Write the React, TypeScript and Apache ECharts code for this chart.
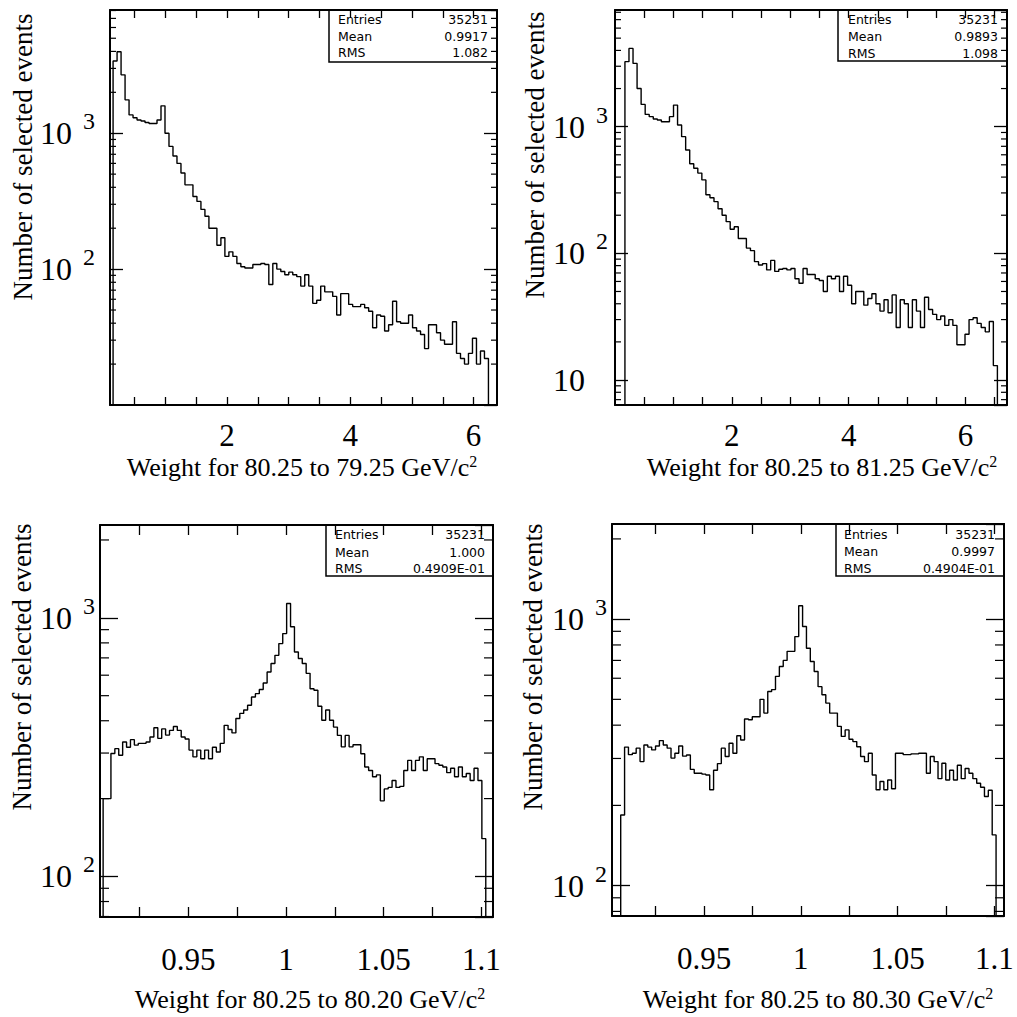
import React, { useEffect, useRef } from "react";
import * as echarts from "echarts";

// ---------------- DATA ----------------
// Panel 1: Weight for 80.25 to 79.25 GeV/c^2
const P1_BIN_START = 0.15;
const P1_BIN_WIDTH = 0.0648;
const p1Counts = [
  3400, 3980, 2690, 1760, 1364, 1300, 1250, 1230, 1200, 1180,
  1180, 1250, 1590, 1000, 800, 680, 600, 510, 417, 417,
  342, 315, 275, 245, 200, 200, 150, 170, 124, 134,
  124, 110, 104, 102, 102, 108, 108, 110, 108, 77,
  110, 100, 96, 91, 95, 91, 88, 75, 91, 75,
  56, 59, 75, 68, 68, 63, 46, 66, 66, 55,
  53, 53, 55, 52, 49, 37, 46, 45, 35, 39,
  58, 41, 40, 40, 46, 37, 35, 33, 26, 39,
  39, 34, 30, 28, 28, 41, 24, 22, 20, 24,
  31, 20, 25, 22,
];
const p1Stats = ["35231", "0.9917", "1.082"];

// Panel 2: Weight for 80.25 to 81.25 GeV/c^2
const P2_BIN_START = 0.17;
const P2_BIN_WIDTH = 0.0693;
const p2Counts = [
  3260, 4150, 3160, 2000, 1500, 1250, 1200, 1150, 1130, 1095,
  1095, 1200, 1480, 1030, 834, 655, 510, 470, 430, 380,
  290, 275, 256, 225, 200, 178, 155, 162, 131, 131,
  110, 105, 86, 81, 83, 74, 88, 72, 75, 76,
  74, 76, 63, 58, 76, 68, 68, 63, 61, 50,
  66, 63, 66, 50, 66, 56, 40, 50, 50, 39,
  44, 48, 40, 35, 43, 34, 47, 26, 43, 40,
  26, 43, 35, 26, 45, 36, 33, 30, 32, 27,
  30, 27, 19, 19, 23, 30, 31, 28, 26, 24,
  29, 13,
];
const p2Stats = ["35231", "0.9893", "1.098"];

// Panel 3: Weight for 80.25 to 80.20 GeV/c^2
const P3_BIN_START = 0.9063;
const P3_BIN_WIDTH = 0.002;
const p3Counts = [
  200, 200, 299, 312, 294, 331, 316, 338, 322, 327,
  327, 331, 346, 376, 342, 372, 352, 367, 380, 367,
  346, 340, 308, 290, 308, 285, 308, 285, 316, 303,
  327, 384, 370, 359, 408, 427, 440, 459, 494, 509,
  528, 560, 617, 666, 716, 795, 869, 1136, 923, 738,
  696, 666, 610, 532, 525, 455, 402, 440, 402, 378,
  351, 317, 351, 317, 323, 323, 298, 265, 257, 243,
  247, 196, 218, 221, 235, 221, 223, 257, 281, 257,
  281, 290, 257, 285, 285, 273, 269, 265, 252, 262,
  243, 265, 243, 250, 235, 262, 235, 140,
];
const p3Stats = ["35231", "1.000", "0.4909E-01"];

// Panel 4: Weight for 80.25 to 80.30 GeV/c^2
const P4_BIN_START = 0.9069;
const P4_BIN_WIDTH = 0.002;
const p4Counts = [
  184, 331, 310, 314, 328, 292, 337, 331, 323, 334,
  350, 337, 328, 301, 314, 334, 306, 309, 273, 264,
  264, 262, 260, 229, 271, 287, 328, 305, 342, 314,
  365, 352, 422, 419, 430, 430, 500, 444, 535, 544,
  610, 664, 700, 757, 757, 860, 1122, 938, 778, 693,
  636, 558, 520, 484, 444, 444, 396, 363, 384, 354,
  347, 332, 305, 292, 314, 260, 229, 246, 229, 249,
  231, 314, 314, 310, 310, 312, 312, 314, 314, 264,
  305, 292, 252, 288, 249, 271, 249, 283, 252, 275,
  264, 252, 242, 234, 216, 228, 155,
];
const p4Stats = ["35231", "0.9997", "0.4904E-01"];

const statLabels = ["Entries", "Mean", "RMS"];
const xTitles = [
  "Weight for 80.25 to 79.25 GeV/c",
  "Weight for 80.25 to 81.25 GeV/c",
  "Weight for 80.25 to 80.20 GeV/c",
  "Weight for 80.25 to 80.30 GeV/c",
];
const xTitleSup = "2";
const yTitle = "Number of selected events";

const wideTicksP1 = [0.5, 1, 1.5, 2, 2.5, 3, 3.5, 4, 4.5, 5, 5.5, 6];
const wideTicksP2 = [0.5, 1, 1.5, 2, 2.5, 3, 3.5, 4, 4.5, 5, 5.5, 6, 6.5];
const wideLabels = [2, 4, 6];
const narrowTicks = [0.925, 0.95, 0.975, 1, 1.025, 1.05, 1.075, 1.1];
const narrowLabels = [0.95, 1, 1.05, 1.1];
const logMinorMultipliers = [2, 3, 4, 5, 6, 7, 8, 9];

// ---------------- LAYOUT ----------------
const SERIF = "Liberation Serif";
const SANS = "DejaVu Sans";

type Panel = {
  start: number; width: number; counts: number[]; stats: string[];
  xMin: number; xMax: number; yMin: number; yMax: number;
  xTicks: number[]; xLabels: number[];
  grid: { left: number; top: number; width: number; height: number };
  xLabelMargin: number; xTickLen: number; yLabelMargin: number;
  majorLen: number; minorLen: number;
  yTitlePos: [number, number]; xTitlePos: [number, number];
  box: { x: number; y: number; w: number; h: number };
  rows: number[]; labelX: number; valueX: number;
};

const panels: Panel[] = [
  {
    start: P1_BIN_START, width: P1_BIN_WIDTH, counts: p1Counts, stats: p1Stats,
    xMin: 0.1, xMax: 6.38, yMin: 10, yMax: 8070, xTicks: wideTicksP1, xLabels: wideLabels,
    grid: { left: 110, top: 10, width: 387, height: 395 },
    xLabelMargin: 17, xTickLen: 8, yLabelMargin: 15, majorLen: 13, minorLen: 6,
    yTitlePos: [23, 157], xTitlePos: [302, 467],
    box: { x: 329, y: 10, w: 168, h: 52 }, rows: [19, 36, 52], labelX: 338, valueX: 488,
  },
  {
    start: P2_BIN_START, width: P2_BIN_WIDTH, counts: p2Counts, stats: p2Stats,
    xMin: 0.0, xMax: 6.71, yMin: 6.35, yMax: 8340, xTicks: wideTicksP2, xLabels: wideLabels,
    grid: { left: 615, top: 10, width: 392, height: 395 },
    xLabelMargin: 17, xTickLen: 8, yLabelMargin: 7, majorLen: 13, minorLen: 6,
    yTitlePos: [535, 155], xTitlePos: [822, 467],
    box: { x: 838, y: 10, w: 169, h: 51 }, rows: [19, 36, 53], labelX: 848, valueX: 998,
  },
  {
    start: P3_BIN_START, width: P3_BIN_WIDTH, counts: p3Counts, stats: p3Stats,
    xMin: 0.9047, xMax: 1.106, yMin: 69.7, yMax: 2285, xTicks: narrowTicks, xLabels: narrowLabels,
    grid: { left: 100, top: 525, width: 393, height: 392 },
    xLabelMargin: 29, xTickLen: 10, yLabelMargin: 5, majorLen: 18, minorLen: 9,
    yTitlePos: [22, 667], xTitlePos: [310, 999],
    box: { x: 326, y: 525, w: 167, h: 51 }, rows: [534, 552, 568], labelX: 335, valueX: 485,
  },
  {
    start: P4_BIN_START, width: P4_BIN_WIDTH, counts: p4Counts, stats: p4Stats,
    xMin: 0.9024, xMax: 1.105, yMin: 76.9, yMax: 2275, xTicks: narrowTicks, xLabels: narrowLabels,
    grid: { left: 612, top: 524, width: 392, height: 392 },
    xLabelMargin: 29, xTickLen: 10, yLabelMargin: 5, majorLen: 18, minorLen: 9,
    yTitlePos: [533, 667], xTitlePos: [818, 999],
    box: { x: 836, y: 524, w: 168, h: 52 }, rows: [534, 551, 568], labelX: 844, valueX: 995,
  },
];

function stepData(start: number, width: number, counts: number[], floor: number) {
  const pts: number[][] = [[start, floor]];
  counts.forEach((c, i) => pts.push([start + i * width, c]));
  const end = start + counts.length * width;
  pts.push([end, counts[counts.length - 1]]);
  pts.push([end, floor]);
  return pts;
}

function minorValues(min: number, max: number) {
  const out: number[] = [];
  for (let e = Math.floor(Math.log10(min)); e <= Math.ceil(Math.log10(max)); e++) {
    for (const m of logMinorMultipliers) {
      const v = m * Math.pow(10, e);
      if (v > min && v < max) out.push(v);
    }
  }
  return out;
}

function yLabelFormatter(value: number) {
  const l = Math.log10(value);
  const e = Math.round(l);
  if (Math.abs(l - e) > 1e-6) return "";
  return e === 1 ? "{b|10}{p| }" : `{b|10}{s|${e}}`;
}

function buildOption() {
  const grids: any[] = [];
  const xAxes: any[] = [];
  const yAxes: any[] = [];
  const series: any[] = [];
  const graphics: any[] = [];
  const axisLine = { show: true, onZero: false, lineStyle: { color: "#000", width: 2 } };

  panels.forEach((p, i) => {
    grids.push({ ...p.grid, show: false });
    const xBase = {
      gridIndex: i, type: "value", min: p.xMin, max: p.xMax,
      axisLine, splitLine: { show: false },
      axisTick: { show: true, inside: true, length: p.xTickLen, customValues: p.xTicks, lineStyle: { color: "#000", width: 1.3 } },
    };
    xAxes.push({
      ...xBase, position: "bottom",
      axisLabel: {
        show: true, customValues: p.xLabels, margin: p.xLabelMargin,
        fontFamily: SERIF, fontSize: 31, lineHeight: 26, color: "#000",
      },
    });
    xAxes.push({ ...xBase, position: "top", axisLabel: { show: false } });
    const yBase = {
      gridIndex: i, type: "log", logBase: 10, min: p.yMin, max: p.yMax,
      axisLine, splitLine: { show: false }, minorTick: { show: false },
      axisTick: { show: true, inside: true, length: p.majorLen, lineStyle: { color: "#000", width: 1.3 } },
    };
    yAxes.push({
      ...yBase, position: "left",
      axisLabel: {
        show: true, margin: p.yLabelMargin, showMinLabel: false, showMaxLabel: false,
        formatter: yLabelFormatter, color: "#000",
        rich: {
          b: { fontFamily: SERIF, fontSize: 32, lineHeight: 48, color: "#000" },
          s: { fontFamily: SERIF, fontSize: 24, verticalAlign: "top", padding: [0, 0, 0, 11], color: "#000" },
          p: { fontFamily: SERIF, fontSize: 24, width: 23 },
        },
      },
    });
    yAxes.push({ ...yBase, position: "right", axisLabel: { show: false } });

    series.push({
      type: "line", xAxisIndex: 2 * i, yAxisIndex: 2 * i, step: "end",
      symbol: "none", showSymbol: false, silent: true, clip: true,
      lineStyle: { color: "#000", width: 1.4 },
      data: stepData(p.start, p.width, p.counts, p.yMin / 10),
    });

    const len = p.minorLen;
    series.push({
      type: "custom", xAxisIndex: 2 * i, yAxisIndex: 2 * i, silent: true,
      data: minorValues(p.yMin, p.yMax).map((v) => [p.xMin, v]),
      renderItem: (params: any, api: any) => {
        const cs = params.coordSys;
        const pt = api.coord([api.value(0), api.value(1)]);
        const y = pt[1];
        const st = { stroke: "#000", lineWidth: 1.2 };
        return {
          type: "group",
          children: [
            { type: "line", shape: { x1: cs.x, y1: y, x2: cs.x + len, y2: y }, style: st },
            { type: "line", shape: { x1: cs.x + cs.width - len, y1: y, x2: cs.x + cs.width, y2: y }, style: st },
          ],
        };
      },
    });

    // titles
    graphics.push({
      type: "text", x: p.yTitlePos[0], y: p.yTitlePos[1], rotation: Math.PI / 2,
      style: { text: yTitle, fontFamily: SERIF, fontSize: 27, fill: "#000", align: "center", verticalAlign: "middle" },
    });
    graphics.push({
      type: "text", x: p.xTitlePos[0], y: p.xTitlePos[1],
      style: {
        text: `{t|${xTitles[i]}}{s|${xTitleSup}}`, align: "center", verticalAlign: "middle",
        rich: {
          t: { fontFamily: SERIF, fontSize: 26, lineHeight: 28, fill: "#000" },
          s: { fontFamily: SERIF, fontSize: 16, lineHeight: 12, verticalAlign: "top", fill: "#000" },
        },
      },
    });
    // stats box
    graphics.push({
      type: "rect", shape: { x: p.box.x, y: p.box.y, width: p.box.w, height: p.box.h },
      style: { fill: "none", stroke: "#000", lineWidth: 1.5 },
    });
    statLabels.forEach((lab, k) => {
      graphics.push({
        type: "text", x: p.labelX, y: p.rows[k],
        style: { text: lab, fontFamily: SANS, fontSize: 12.5, fill: "#000", align: "left", verticalAlign: "middle" },
      });
      graphics.push({
        type: "text", x: p.valueX, y: p.rows[k],
        style: { text: p.stats[k], fontFamily: SANS, fontSize: 12.5, fill: "#000", align: "right", verticalAlign: "middle" },
      });
    });
  });

  return {
    animation: false,
    backgroundColor: "#fff",
    grid: grids,
    xAxis: xAxes,
    yAxis: yAxes,
    series,
    graphic: graphics,
  };
}

export default function App() {
  const ref = useRef<HTMLDivElement>(null);
  useEffect(() => {
    const chart = echarts.init(ref.current!, null, { renderer: "svg" });
    chart.setOption(buildOption() as any);
    return () => chart.dispose();
  }, []);
  return (
    <div
      ref={ref}
      style={{ position: "absolute", left: 0, top: 0, width: 1017, height: 1017, background: "#fff" }}
    />
  );
}
